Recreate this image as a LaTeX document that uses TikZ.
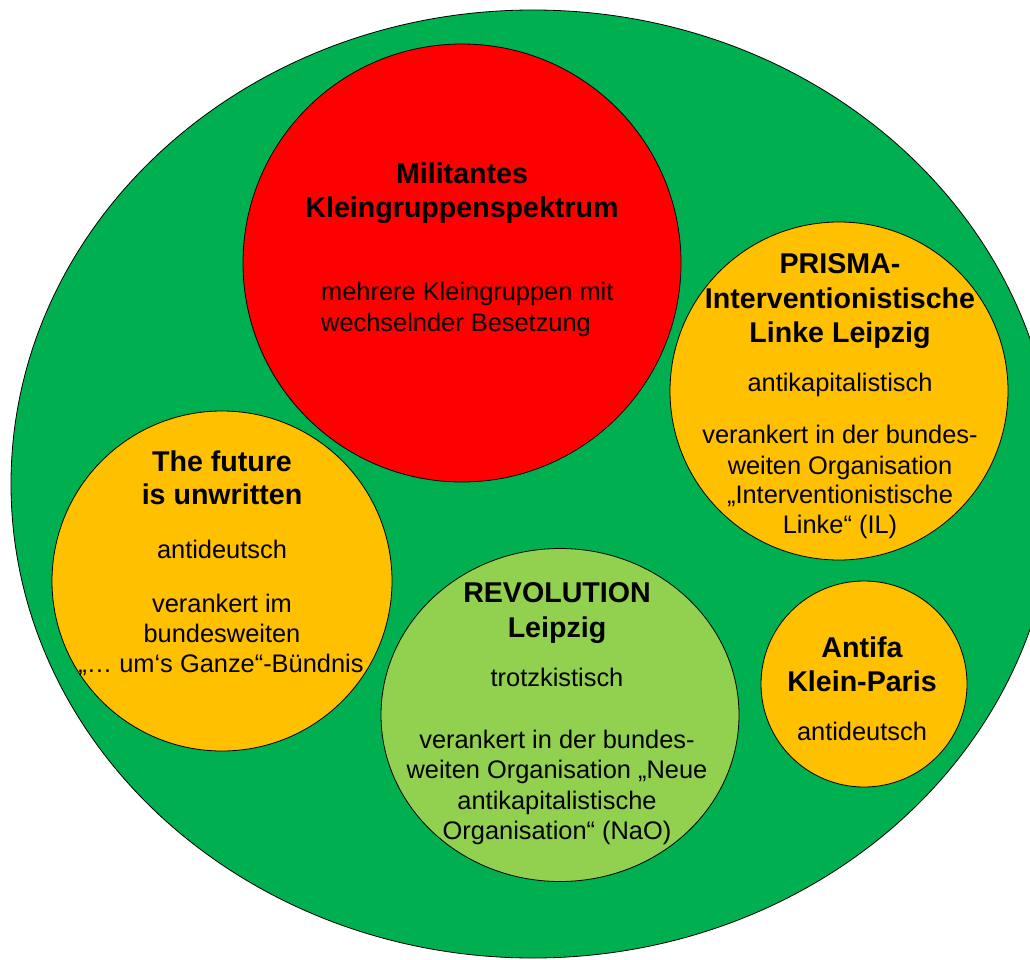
\documentclass[tikz,border=0pt]{standalone}
\usepackage{fontspec}
\setmainfont{Liberation Sans}
\usetikzlibrary{shapes.geometric}

\definecolor{outergreen}{HTML}{00B050}
\definecolor{groupred}{HTML}{FF0000}
\definecolor{groupgold}{HTML}{FFC000}
\definecolor{grouplime}{HTML}{92D050}

\tikzset{
  ring/.style={draw=black, line width=0.8pt, inner sep=0pt},
  roundgroup/.style={ring, circle},
  ovalgroup/.style={ring, ellipse},
  titleline/.style={anchor=base, inner sep=0pt,
    font=\bfseries\fontsize{28.6}{34}\selectfont},
  bodyline/.style={anchor=base, inner sep=0pt,
    font=\fontsize{25.4}{30.5}\selectfont},
}

\begin{document}
\begin{tikzpicture}[x=1pt, y=1pt]
  \useasboundingbox (0,0) rectangle (1030,-960);
  \clip (0,0) rectangle (1030,-960);

  % whole scene
  \node[ovalgroup, fill=outergreen, minimum width=1044pt, minimum height=948pt] (scene) at (533,-484) {};

  % groups
  \node[roundgroup, fill=groupred, minimum size=438pt] (militant) at (462,-263) {};
  \node[roundgroup, fill=groupgold, minimum size=340pt] (future) at (222,-581) {};
  \node[roundgroup, fill=groupgold, minimum size=338pt] (prisma) at (839,-391) {};
  \node[ovalgroup, fill=grouplime, minimum width=358pt, minimum height=333pt] (revolution) at (560,-715) {};
  \node[roundgroup, fill=groupgold, minimum size=206pt] (antifa) at (864,-684) {};

  % Militantes Kleingruppenspektrum
  \node[titleline] (m1) at (462,-183) {Militantes};
  \node[titleline] (m2) at (462,-217) {Kleingruppenspektrum};
  \node[bodyline, anchor=base west] (m3) at (321,-300) {mehrere Kleingruppen mit};
  \node[bodyline, anchor=base west] (m4) at (321,-331) {wechselnder Besetzung};

  % The future is unwritten
  \node[titleline] (f1) at (222,-471) {The future};
  \node[titleline] (f2) at (222,-504) {is unwritten};
  \node[bodyline] (f3) at (222,-558) {antideutsch};
  \node[bodyline] (f4) at (222,-612) {verankert im};
  \node[bodyline] (f5) at (222,-642) {bundesweiten};
  \node[bodyline] (f6) at (221,-672) {„… um‘s Ganze“-Bündnis};

  % PRISMA
  \node[titleline] (p1) at (840,-273) {PRISMA-};
  \node[titleline] (p2) at (840,-308) {Interventionistische};
  \node[titleline] (p3) at (840,-342) {Linke Leipzig};
  \node[bodyline] (p4) at (840,-391) {antikapitalistisch};
  \node[bodyline] (p5) at (840,-443) {verankert in der bundes-};
  \node[bodyline] (p6) at (840,-474) {weiten Organisation};
  \node[bodyline] (p7) at (840,-503) {„Interventionistische};
  \node[bodyline] (p8) at (840,-533) {Linke“ (IL)};

  % REVOLUTION Leipzig
  \node[titleline] (r1) at (557,-602) {REVOLUTION};
  \node[titleline] (r2) at (557,-637) {Leipzig};
  \node[bodyline] (r3) at (557,-686) {trotzkistisch};
  \node[bodyline] (r4) at (557,-748) {verankert in der bundes-};
  \node[bodyline] (r5) at (557,-778) {weiten Organisation „Neue};
  \node[bodyline] (r6) at (557,-809) {antikapitalistische};
  \node[bodyline] (r7) at (557,-839) {Organisation“ (NaO)};

  % Antifa Klein-Paris
  \node[titleline] (a1) at (862,-657) {Antifa};
  \node[titleline] (a2) at (862,-691) {Klein-Paris};
  \node[bodyline] (a3) at (862,-740) {antideutsch};
\end{tikzpicture}
\end{document}
